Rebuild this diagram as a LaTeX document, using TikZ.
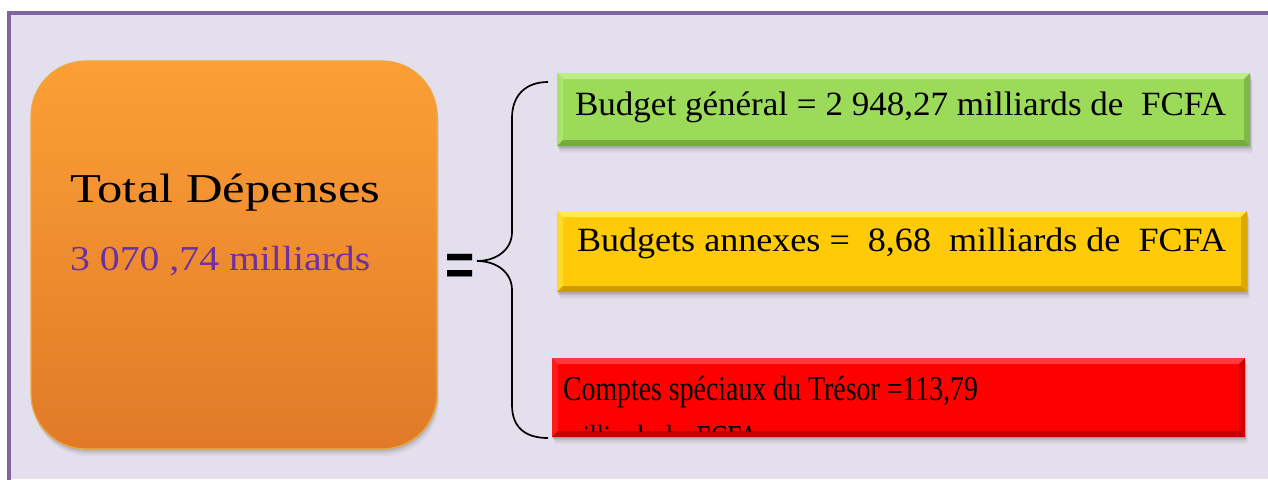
\documentclass[tikz,border=0pt]{standalone}
\usepackage{fontspec}
\usepackage{graphicx}
\setmainfont{Liberation Serif}
\newfontfamily\eqfont{Liberation Sans}
\definecolor{bg}{HTML}{E4DFEC}
\definecolor{frame}{HTML}{8064A2}
\definecolor{orTop}{HTML}{FC9F36}
\definecolor{orBot}{HTML}{E07A28}
\definecolor{orEdge}{HTML}{EBAA3A}
\definecolor{txtPurple}{HTML}{7030A0}
\definecolor{grn}{HTML}{9BDB59}
\definecolor{grnL}{HTML}{BDEE84}
\definecolor{grnD}{HTML}{74AC3E}
\definecolor{yel}{HTML}{FFCA08}
\definecolor{yelL}{HTML}{FFEA50}
\definecolor{yelD}{HTML}{CC9C00}
\definecolor{rd}{HTML}{FF0000}
\definecolor{rdL}{HTML}{FF3A3A}
\definecolor{rdD}{HTML}{C00000}
\newcommand\bevelbox[4]{%
  \fill[#2] (#1.north west) -- (#1.north east) -- ([xshift=-#4,yshift=-#4]#1.north east) -- ([xshift=#4,yshift=-#4]#1.north west) -- cycle;
  \fill[#2, opacity=0.45] (#1.north west) -- ([xshift=#4,yshift=-#4]#1.north west) -- ([xshift=#4,yshift=#4]#1.south west) -- (#1.south west) -- cycle;
  \fill[#3] (#1.south west) -- ([xshift=#4,yshift=#4]#1.south west) -- ([xshift=-#4,yshift=#4]#1.south east) -- (#1.south east) -- cycle;
  \fill[#3, opacity=0.7] (#1.south east) -- ([xshift=-#4,yshift=#4]#1.south east) -- ([xshift=-#4,yshift=-#4]#1.north east) -- (#1.north east) -- cycle;
}
\newcommand\softshadow[4]{%
  \foreach \d/\o in {7/0.04,5/0.05,3/0.07,1.5/0.08}{%
    \fill[black, opacity=\o] (#1+\d*0.4,#2+\d) rectangle (#3+\d*0.4,#4+\d);}%
}
\begin{document}
\begin{tikzpicture}[x=1pt,y=-1pt,
  boxnode/.style={rectangle, inner sep=0pt, outer sep=0pt},
  lbl/.style={anchor=base west, inner sep=0pt, outer sep=0pt, font=\fontsize{34}{40}\selectfont},
]
\useasboundingbox (0,0) rectangle (1268,479);
\fill[white] (0,0) rectangle (1268,479);
\fill[bg] (9,12.5) rectangle (1268,479);
\draw[frame, line width=4pt] (9,481) -- (9,12.5) -- (1270,12.5);

% total box
\foreach \d/\o in {7/0.04,5/0.05,3/0.07,1.5/0.08}{%
  \fill[black, opacity=\o, rounded corners=55pt] (31+\d*0.3,61+\d) rectangle (437+\d*0.3,449+\d);}
\node[boxnode, rounded corners=55pt, minimum width=406pt, minimum height=388pt,
      top color=orTop, bottom color=orBot, draw=orEdge, line width=1.2pt] (tot) at (234,255) {};
\node[anchor=base west, inner sep=0pt, font=\fontsize{41}{48}\selectfont] (totlbl) at (70,202)
  {\resizebox{310pt}{\height}{Total Dépenses}};
\node[anchor=base west, inner sep=0pt, text=txtPurple, font=\fontsize{35}{40}\selectfont] (totval) at (70,270)
  {\resizebox{300pt}{\height}{3 070 ,74 milliards}};

% equal sign
\node[anchor=base, inner sep=0pt, font=\eqfont\bfseries\fontsize{50}{50}\selectfont] (eq) at (460,285)
  {\scalebox{1}[1.2]{=}};

% green box
\softshadow{557}{73}{1250}{146}
\node[boxnode, minimum width=693pt, minimum height=73pt, fill=grn] (gen) at (903.5,109.5) {};
\bevelbox{gen}{grnL}{grnD}{6pt}
\node[lbl] (genlbl) at (575,115) {\resizebox{651pt}{\height}{Budget général = 2 948,27 milliards de~ FCFA}};

% yellow box
\softshadow{557}{211}{1247}{292}
\node[boxnode, minimum width=690pt, minimum height=81pt, fill=yel] (ann) at (902,251.5) {};
\bevelbox{ann}{yelL}{yelD}{6pt}
\node[lbl] (annlbl) at (577,251) {\resizebox{649pt}{\height}{Budgets annexes =~ 8,68~ milliards de~ FCFA}};

% red box
\softshadow{552}{358}{1245}{437}
\node[boxnode, minimum width=693pt, minimum height=79pt, fill=rd] (cst) at (898.5,397.5) {};
\bevelbox{cst}{rdL}{rdD}{6pt}
\node[lbl, font=\fontsize{35}{40}\selectfont] (cstlbl) at (563,400) {\resizebox{415pt}{\height}{Comptes spéciaux du Trésor =113,79}};
\begin{scope}
  \clip (cst.north west) rectangle ([yshift=6pt]cst.south east);
  \node[lbl, font=\fontsize{35}{40}\selectfont] (cstlbl2) at (563,449) {\resizebox{195pt}{\height}{milliards de~ FCFA}};
\end{scope}

% brace
\coordinate (btop) at (548,82);
\coordinate (btip) at (477,261);
\coordinate (bbot) at (548,438);
\draw[black, line width=1.7pt]
  (btop) .. controls (526,82) and (512,95) .. (512,118) -- (512,232)
  .. controls (512,250) and (496,261) .. (btip)
  .. controls (496,261) and (512,272) .. (512,290) -- (512,405)
  .. controls (512,428) and (526,438) .. (bbot);
\end{tikzpicture}
\end{document}
